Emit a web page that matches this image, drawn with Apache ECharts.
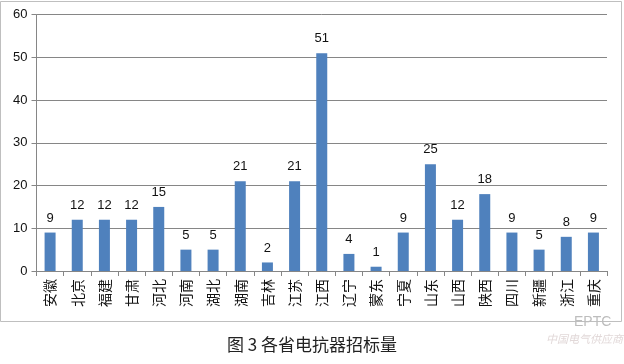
<!DOCTYPE html>
<html><head><meta charset="utf-8">
<script src="https://cdn.jsdelivr.net/npm/echarts@6/dist/echarts.min.js"></script>
<style>html,body{margin:0;padding:0;background:#fff}#c{width:624px;height:364px}</style>
</head><body><div id="c"></div>
<script>
const categories = ['安徽','北京','福建','甘肃','河北','河南','湖北','湖南','吉林','江苏','江西','辽宁','蒙东','宁夏','山东','山西','陕西','四川','新疆','浙江','重庆'];
const values = [9,12,12,12,15,5,5,21,2,21,51,4,1,9,25,12,18,9,5,8,9];
const titleText = '图 3 各省电抗器招标量';
const chart = echarts.init(document.getElementById('c'), null, {renderer:'canvas'});
const font = '"Noto Sans CJK SC", "Noto Sans", sans-serif';
chart.setOption({
  animation:false,
  grid:{left:36.5, right:17, top:14.7, bottom:93, containLabel:false},
  xAxis:{type:'category', data:categories,
    axisLine:{lineStyle:{color:'#868686', width:1}},
    axisTick:{show:true, inside:false, length:5, alignWithLabel:false, lineStyle:{color:'#868686'}},
    axisLabel:{rotate:90, fontSize:14, color:'#111', margin:8, fontFamily:font, interval:0}},
  yAxis:{type:'value', min:0, max:60, interval:10,
    axisLine:{show:true, lineStyle:{color:'#868686'}},
    axisTick:{show:true, length:5, lineStyle:{color:'#868686'}},
    splitLine:{lineStyle:{color:'#868686', width:1}},
    axisLabel:{fontSize:13, color:'#111', margin:9, fontFamily:'Arial, "Liberation Sans", sans-serif'}},
  series:[{type:'bar', data:values, barWidth:11,
    itemStyle:{color:'#4F81BD'},
    label:{show:true, position:'top', distance:8, fontSize:13, color:'#111', fontFamily:'Arial, "Liberation Sans", sans-serif'}}],
  graphic:[
    {type:'rect', shape:{x:0.5, y:1.5, width:621, height:320}, style:{fill:'none', stroke:'#bfbfbf', lineWidth:1}, silent:true, z:-1},
    {type:'text', left:'center', top:336, style:{text:titleText, fontSize:17, fill:'#222', fontFamily:font}},
    {type:'text', left:574, top:315, style:{text:'EPTC', fontSize:14, fill:'#bdbdbd', fontFamily:'Arial, sans-serif'}},
    {type:'text', left:546, top:333, style:{text:'中国电气供应商', fontSize:11, fill:'#e2d9d9', fontFamily:font, fontStyle:'italic'}}
  ]
});
</script></body></html>
